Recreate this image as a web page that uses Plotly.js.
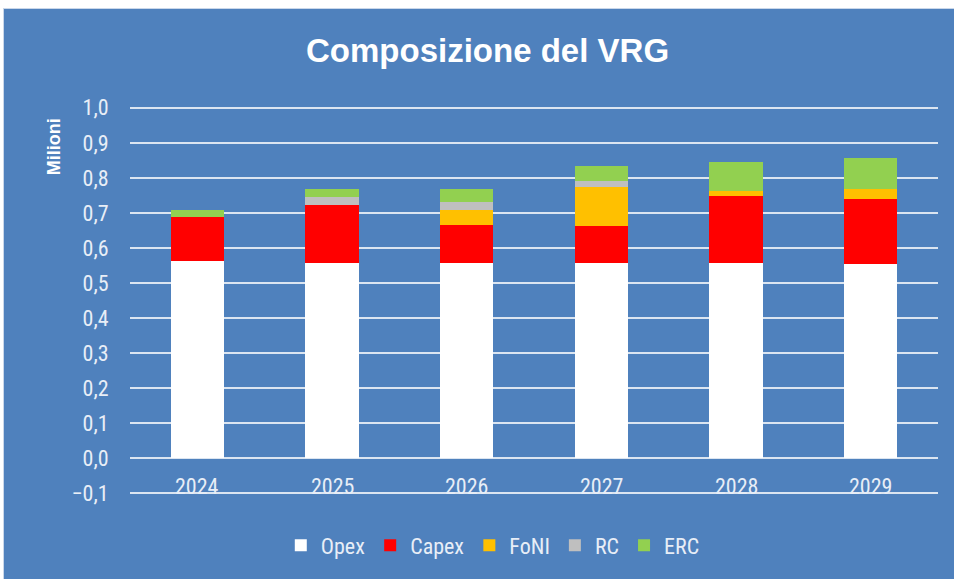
<!DOCTYPE html>
<html>
<head>
<meta charset="utf-8">
<script src="https://cdn.plot.ly/plotly-3.0.1.min.js"></script>
<style>
html,body{margin:0;padding:0;background:#ffffff;width:954px;height:579px;overflow:hidden;}
#wrap{position:absolute;left:3px;top:8px;width:950px;height:570px;border:1px solid #c9d7ea;}
#chart{width:950px;height:570px;}
</style>
</head>
<body>
<div id="wrap"><div id="chart"></div></div>
<script>
const years = ['2024','2025','2026','2027','2028','2029'];
const opex  = [0.564, 0.558, 0.558, 0.558, 0.558, 0.553];
const capex = [0.124, 0.165, 0.108, 0.104, 0.190, 0.188];
const foni  = [0.000, 0.000, 0.043, 0.113, 0.015, 0.026];
const rc    = [0.000, 0.022, 0.021, 0.017, 0.000, 0.000];
const erc   = [0.021, 0.022, 0.037, 0.043, 0.082, 0.090];
const yTicks = [-0.1,0,0.1,0.2,0.3,0.4,0.5,0.6,0.7,0.8,0.9,1.0];

const seriesNames = ['Opex','Capex','FoNI','RC','ERC'];
const seriesVals = [opex, capex, foni, rc, erc];
const seriesColors = ['#FFFFFF','#FF0000','#FFC000','#BFBFBF','#92D050'];

const narrow = '"Roboto Condensed", Roboto, sans-serif';
const txt = '#e8eef7';

const traces = seriesNames.map((n,i)=>({
  type:'bar', name:n, x:years, y:seriesVals[i],
  marker:{color:seriesColors[i]}
}));

const annotations = years.map((y,i)=>({
  x:i, y:-0.1, xref:'x', yref:'y', text:y, showarrow:false,
  yanchor:'bottom', yshift:-8,
  font:{family:narrow, size:22, color:txt}
}));
annotations.push({
  xref:'paper', yref:'paper', x:-0.093, y:0.896, text:'<b>Milioni</b>',
  textangle:-90, showarrow:false, xanchor:'center', yanchor:'middle',
  font:{family:'"Liberation Sans", Arial, sans-serif', size:18, color:'#ffffff'}
});

const layout = {
  width:950, height:570,
  paper_bgcolor:'#4F81BD', plot_bgcolor:'#4F81BD',
  margin:{l:126, r:16, t:97, b:79},
  separators:',.',
  barmode:'stack', bargap:0.606,
  showlegend:true,
  title:{text:'<b>Composizione del VRG</b>', x:0.509, xanchor:'center', y:0.927, yanchor:'middle',
    font:{family:'"Liberation Sans", Arial, sans-serif', size:33, color:'#ffffff'}},
  xaxis:{type:'category', range:[-0.5, years.length-0.5], showticklabels:false, showgrid:false, zeroline:false, showline:false},
  yaxis:{range:[-0.105,1.005], tickvals:yTicks, tickformat:'.1f', showgrid:true,
    gridcolor:'#dbe5f1', gridwidth:2, zeroline:false, showline:false,
    ticks:'outside', ticklen:16, tickcolor:'rgba(0,0,0,0)',
    tickfont:{family:narrow, size:22, color:txt}},
  legend:{orientation:'h', x:0.449, xanchor:'center', y:-0.13, yanchor:'middle',
    traceorder:'normal', itemwidth:30,
    font:{family:narrow, size:22, color:txt}, bgcolor:'rgba(0,0,0,0)'},
  annotations:annotations
};

Plotly.newPlot('chart', traces, layout, {displayModeBar:false});
</script>
</body>
</html>
